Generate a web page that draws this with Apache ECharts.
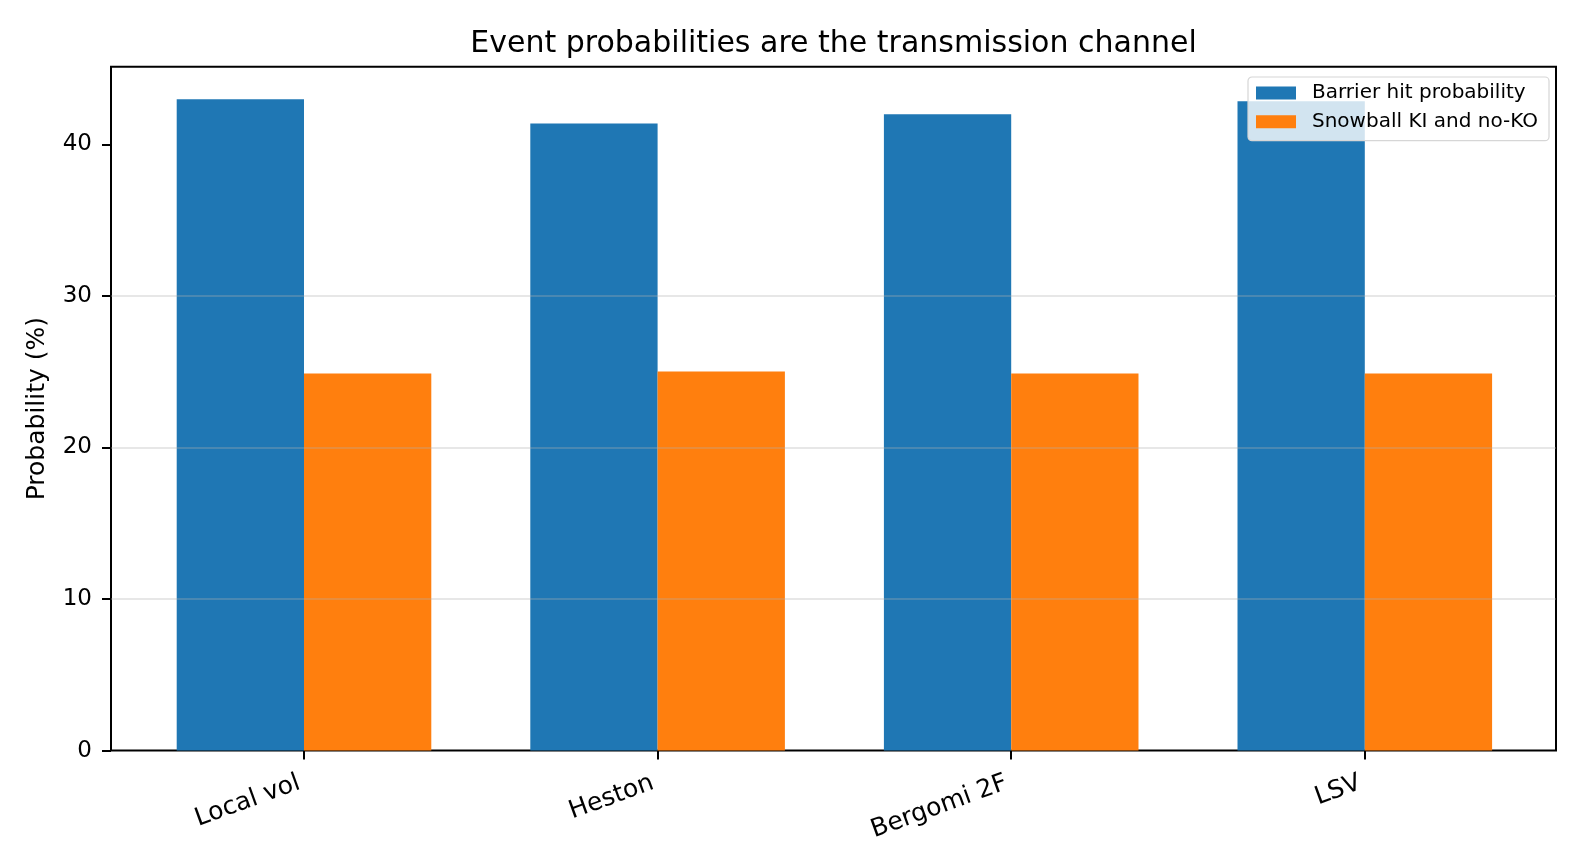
<!DOCTYPE html>
<html>
<head>
<meta charset="utf-8">
<script src="https://cdn.jsdelivr.net/npm/echarts@6/dist/echarts.min.js"></script>
<style>
  html, body { margin: 0; padding: 0; background: #fff; }
  #chart { width: 1584px; height: 864px; }
</style>
</head>
<body>
<div id="chart"></div>
<script>
// data
const models = ['Local vol', 'Heston', 'Bergomi 2F', 'LSV'];
const barrierHit = [42.98, 41.39, 41.99, 42.85];
const snowballKI = [24.88, 25.01, 24.88, 24.88];
const yTicks = [0, 10, 20, 30, 40];
const yMax = 45.13;

const font = 'DejaVu Sans';

const myChart = echarts.init(document.getElementById('chart'));

const option = {
  animation: false,
  backgroundColor: '#fff',
  title: {
    text: 'Event probabilities are the transmission channel',
    left: 833.5,
    textAlign: 'center',
    top: 29,
    padding: 0,
    textStyle: { fontFamily: font, fontSize: 30, fontWeight: 'normal', color: '#000' }
  },
  legend: {
    orient: 'vertical',
    left: 1248,
    top: 77,
    padding: [6, 11, 9, 8],
    itemGap: 8.7,
    itemWidth: 40,
    itemHeight: 13,
    icon: 'rect',
    backgroundColor: 'rgba(255,255,255,0.8)',
    borderColor: '#d6d6d6',
    borderWidth: 1.2,
    borderRadius: 4,
    textStyle: { fontFamily: font, fontSize: 20, color: '#000', padding: [0, 0, 0, 11] },
    data: ['Barrier hit probability', 'Snowball KI and no-KO']
  },
  grid: [
    // frame grid, same box as the matplotlib axes
    { left: 111, right: 28, top: 66.7, bottom: 113.4, show: true, borderColor: '#000', borderWidth: 2, backgroundColor: 'transparent' },
    // bar grid, narrower so the category bands match the bar spacing
    { left: 127.2, right: 42.4, top: 66.7, bottom: 113.4 }
  ],
  xAxis: [
    { gridIndex: 0, type: 'value', min: 0, max: 1, show: false },
    {
      gridIndex: 1,
      type: 'category',
      data: models,
      axisLine: { show: false },
      axisTick: { show: true, alignWithLabel: true, length: 9, lineStyle: { color: '#000', width: 2 } },
      axisLabel: { rotate: 20, margin: 30, padding: [0, 5, 0, 0], fontFamily: font, fontSize: 25, color: '#000' },
      splitLine: { show: false }
    }
  ],
  yAxis: [
    {
      gridIndex: 0,
      type: 'value',
      min: 0,
      max: yMax,
      z: 10,
      name: 'Probability (%)',
      nameLocation: 'middle',
      nameGap: 61,
      nameTextStyle: { fontFamily: font, fontSize: 25, color: '#000' },
      axisLine: { show: false },
      axisTick: { show: true, length: 9, customValues: yTicks, lineStyle: { color: '#000', width: 2 } },
      axisLabel: { margin: 19, padding: [3, 0, 0, 0], customValues: yTicks, fontFamily: font, fontSize: 23, color: '#000' },
      splitLine: { show: true, showMinLine: false, showMaxLine: false, lineStyle: { color: 'rgba(176,176,176,0.3)', width: 2 } }
    },
    { gridIndex: 1, type: 'value', min: 0, max: yMax, show: false }
  ],
  series: [
    {
      name: 'Barrier hit probability',
      type: 'bar',
      xAxisIndex: 1,
      yAxisIndex: 1,
      barWidth: '36%',
      barGap: '0%',
      itemStyle: { color: '#1f77b4' },
      data: barrierHit
    },
    {
      name: 'Snowball KI and no-KO',
      type: 'bar',
      xAxisIndex: 1,
      yAxisIndex: 1,
      barWidth: '36%',
      barGap: '0%',
      itemStyle: { color: '#ff7f0e' },
      data: snowballKI
    }
  ]
};

myChart.setOption(option);
</script>
</body>
</html>
